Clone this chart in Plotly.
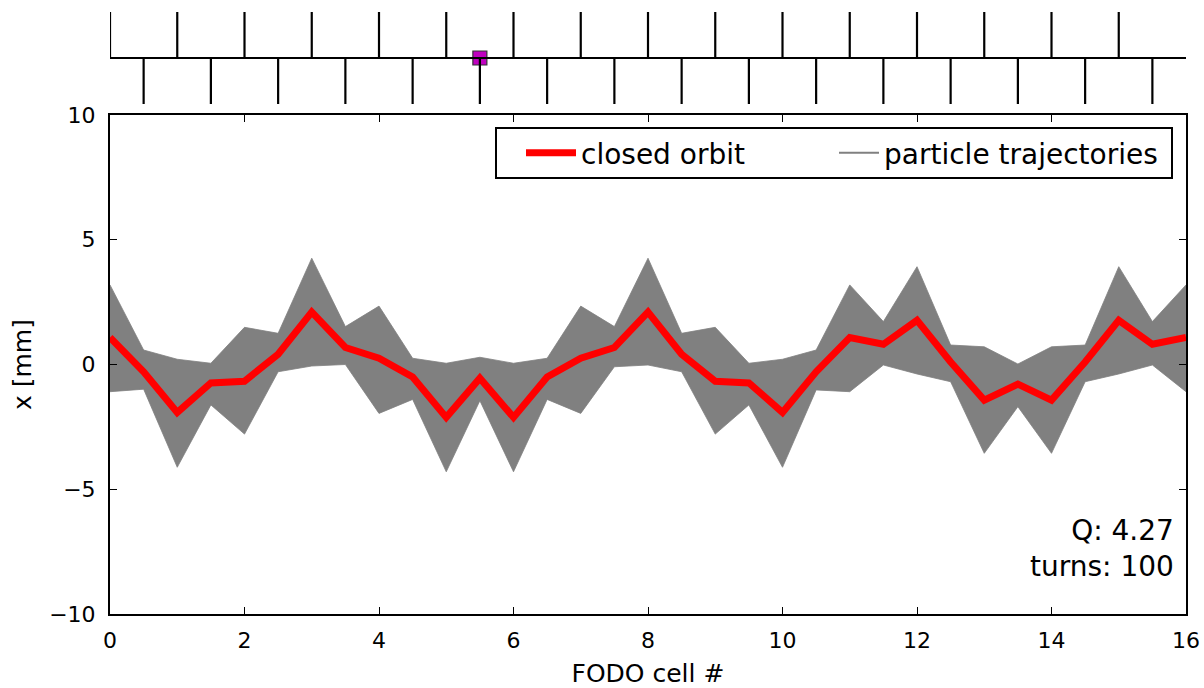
import plotly.graph_objects as go

# ---------------- data ----------------
positions = [i * 0.5 for i in range(33)]  # FODO half-cell positions 0..16

closed_orbit = [1.08, -0.29, -1.92, -0.74, -0.67, 0.41, 2.10, 0.68, 0.25, -0.50, -2.12, -0.55,
                -2.12, -0.50, 0.25, 0.68, 2.10, 0.41, -0.67, -0.74, -1.92, -0.29, 1.08, 0.81,
                1.77, 0.10, -1.43, -0.79, -1.43, 0.10, 1.77, 0.81, 1.08]

traj_upper = [3.19, 0.58, 0.21, 0.05, 1.49, 1.25, 4.26, 1.52, 2.34, 0.25, 0.05, 0.29,
              0.05, 0.25, 2.34, 1.52, 4.26, 1.25, 1.49, 0.05, 0.21, 0.58, 3.19, 1.72,
              3.92, 0.78, 0.71, 0.02, 0.71, 0.78, 3.92, 1.72, 3.19]

traj_lower = [-1.09, -0.99, -4.12, -1.62, -2.79, -0.29, -0.06, 0.00, -1.96, -1.40, -4.30, -1.45,
              -4.30, -1.40, -1.96, -0.09, -0.02, -0.29, -2.79, -1.62, -4.12, -1.02, -1.09, -0.02,
              -0.38, -0.69, -3.56, -1.69, -3.56, -0.69, -0.38, -0.02, -1.09]

focusing_quads = list(range(16))                     # 0..15
defocusing_quads = [i + 0.5 for i in range(16)]      # 0.5..15.5
kicker_position = [5.5]

Q_text = "Q: 4.27"
turns_text = "turns: 100"

x_ticks = [0, 2, 4, 6, 8, 10, 12, 14, 16]
y_ticks = [-10, -5, 0, 5, 10]

# ---------------- figure ----------------
FONT = "DejaVu Sans"
W, H = 1204, 688
mt, mb, ml, mr = 0, 74, 110, 18
ph = H - mt - mb
pw = W - ml - mr

def py(px):
    return (H - mb - px) / ph

def pxx(px):
    return (px - ml) / pw

fig = go.Figure()

# particle trajectory band
fig.add_trace(go.Scatter(x=positions, y=traj_lower, mode="lines",
                         line=dict(color="rgb(128,128,128)", width=0.8),
                         showlegend=False, hoverinfo="skip", xaxis="x", yaxis="y"))
fig.add_trace(go.Scatter(x=positions, y=traj_upper, mode="lines", fill="tonexty",
                         fillcolor="rgb(128,128,128)",
                         line=dict(color="rgb(128,128,128)", width=0.8),
                         showlegend=False, hoverinfo="skip", xaxis="x", yaxis="y"))

# closed orbit
fig.add_trace(go.Scatter(x=positions, y=closed_orbit, mode="lines", name="closed orbit",
                         line=dict(color="#ff0000", width=7), xaxis="x", yaxis="y",
                         legend="legend"))
# legend entry for trajectories
fig.add_trace(go.Scatter(x=[None], y=[None], mode="lines", name="particle trajectories",
                         line=dict(color="rgb(128,128,128)", width=2), xaxis="x", yaxis="y",
                         legend="legend2"))

# lattice panel
fig.add_trace(go.Scatter(x=kicker_position, y=[0] * len(kicker_position), mode="markers",
                         marker=dict(symbol="square", size=14, color="#bf00bf",
                                     line=dict(color="#333333", width=1.2)),
                         showlegend=False, hoverinfo="skip", xaxis="x2", yaxis="y2"))
qx, qy = [], []
for p in focusing_quads:
    qx += [p, p, None]
    qy += [0, 1, None]
for p in defocusing_quads:
    qx += [p, p, None]
    qy += [0, -1, None]
fig.add_trace(go.Scatter(x=qx, y=qy, mode="lines", line=dict(color="black", width=2.2),
                         showlegend=False, hoverinfo="skip", xaxis="x2", yaxis="y2",
                         cliponaxis=False))

fig.add_shape(type="line", xref="x2 domain", yref="y2", x0=0, x1=1, y0=0, y1=0,
              line=dict(color="black", width=2), layer="above")

# legend frame
fig.add_shape(type="rect", xref="paper", yref="paper",
              x0=pxx(496), x1=pxx(1172), y0=py(178), y1=py(128),
              line=dict(color="black", width=2), fillcolor="white", layer="above")

fig.add_annotation(xref="paper", yref="paper", x=pxx(1176), y=py(548),
                   text=Q_text + "<br>" + turns_text, showarrow=False, align="right",
                   xanchor="right", yanchor="middle",
                   font=dict(family=FONT, size=28, color="black"))

axis_common = dict(showline=True, linecolor="black", linewidth=2, mirror="ticks",
                   ticks="inside", ticklen=7, tickwidth=1, tickcolor="black",
                   showgrid=False, zeroline=False, automargin=False,
                   tickfont=dict(family=FONT, size=22, color="black"))

legend_common = dict(orientation="h", yanchor="middle", xanchor="left",
                     bgcolor="rgba(0,0,0,0)", borderwidth=0,
                     font=dict(family=FONT, size=28, color="black"))

fig.update_layout(
    width=W, height=H,
    margin=dict(l=ml, r=mr, t=mt, b=mb, autoexpand=False),
    paper_bgcolor="white", plot_bgcolor="white",
    font=dict(family=FONT, color="black"),
    xaxis=dict(domain=[0, 1], range=[0, 16], tickvals=x_ticks, anchor="y",
               ticklabelstandoff=6,
               title=dict(text="FODO cell #", font=dict(family=FONT, size=25), standoff=12),
               **axis_common),
    yaxis=dict(domain=[0, py(115)], range=[-10, 10], tickvals=y_ticks, anchor="x",
               ticklabelstandoff=8,
               title=dict(text="x [mm]", font=dict(family=FONT, size=25), standoff=10),
               **axis_common),
    xaxis2=dict(domain=[0, 1], range=[0, 16], anchor="y2", visible=False),
    yaxis2=dict(domain=[py(104), py(12)], range=[-1, 1], anchor="x2", visible=False),
    legend=dict(x=pxx(521), y=py(153), itemwidth=50, **legend_common),
    legend2=dict(x=pxx(834), y=py(153), itemwidth=40, **legend_common),
    showlegend=True,
)

fig.write_html("out.html")
